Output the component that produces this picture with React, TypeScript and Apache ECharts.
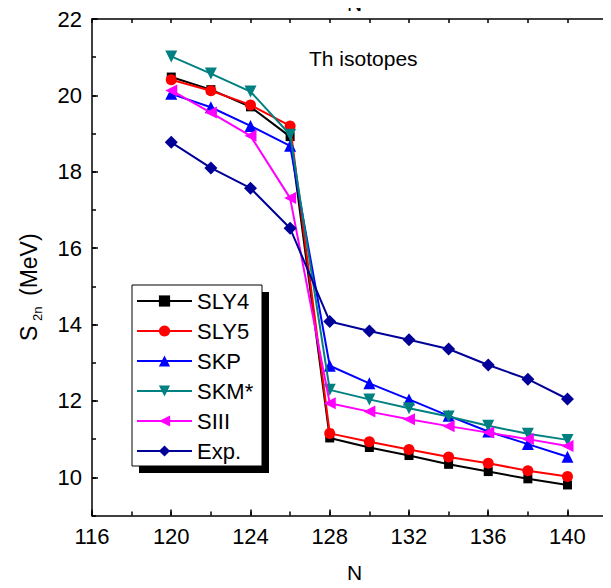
import React, { useEffect, useRef } from "react";
import * as echarts from "echarts";

const neutrons = [120, 122, 124, 126, 128, 130, 132, 134, 136, 138, 140];
const sly4 = [20.48, 20.15, 19.7, 18.92, 11.03, 10.78, 10.57, 10.34, 10.15, 9.96, 9.8];
const sly5 = [20.41, 20.12, 19.75, 19.2, 11.15, 10.93, 10.73, 10.53, 10.37, 10.17, 10.02];
const skp = [20.04, 19.69, 19.2, 18.68, 12.92, 12.46, 12.04, 11.61, 11.2, 10.87, 10.54];
const skmStar = [21.02, 20.57, 20.1, 18.97, 12.29, 12.04, 11.81, 11.59, 11.35, 11.14, 10.98];
const siii = [20.13, 19.55, 18.94, 17.31, 11.94, 11.72, 11.52, 11.34, 11.17, 11.0, 10.82];
const expData = [18.77, 18.1, 17.57, 16.52, 14.08, 13.83, 13.6, 13.36, 12.94, 12.57, 12.05];

const seriesNames = ["SLY4", "SLY5", "SKP", "SKM*", "SIII", "Exp."];
const seriesColors = ["#000000", "#ff0000", "#0000ff", "#008080", "#ff00ff", "#000099"];
const seriesSymbols = ["rect", "circle", "triangle", "path://M0,0 L10,0 L5,10 Z", "path://M0,5 L10,0 L10,10 Z", "diamond"];
const seriesSizes = [9, 11, 12, 12, 12, 13];
const seriesValues = [sly4, sly5, skp, skmStar, siii, expData];

const FONT = "'Liberation Sans', Arial, sans-serif";

export default function App() {
  const ref = useRef<HTMLDivElement>(null);
  useEffect(() => {
    if (!ref.current) return;
    const chart = echarts.init(ref.current, undefined, { renderer: "svg" });
    const axisLine = { show: true, lineStyle: { color: "#000", width: 1.5 } };
    const option: any = {
      animation: false,
      backgroundColor: "#fff",
      textStyle: { fontFamily: FONT },
      grid: { left: 92, right: -6, top: 19, bottom: 72.5, containLabel: false, outerBoundsMode: "none" },
      xAxis: [
        {
          type: "value", position: "bottom", min: 116, max: 142.5, interval: 4,
          name: "N", nameLocation: "middle", nameGap: 46,
          nameTextStyle: { fontSize: 21, color: "#000", fontFamily: FONT },
          axisLine, splitLine: { show: false },
          axisTick: { show: true, inside: true, length: 6, lineStyle: { color: "#000", width: 1.5 } },
          axisLabel: { fontSize: 22, color: "#000", margin: 10, showMaxLabel: false, fontFamily: FONT },
        },
        {
          type: "value", position: "bottom", min: 116, max: 142.5, interval: 2,
          axisLine: { show: false }, splitLine: { show: false }, axisLabel: { show: false },
          axisTick: { show: true, inside: true, length: 4, lineStyle: { color: "#000", width: 1.5 } },
        },
        {
          type: "value", position: "top", min: 116, max: 142.5, interval: 2,
          name: "N", nameLocation: "middle", nameGap: 5,
          nameTextStyle: { fontSize: 21, color: "#000", fontFamily: FONT },
          axisLine, splitLine: { show: false }, axisLabel: { show: false },
          axisTick: { show: true, inside: true, length: 4, lineStyle: { color: "#000", width: 1.5 } },
        },
      ],
      yAxis: [
        {
          type: "value", position: "left", min: 9, max: 22, splitNumber: 6,
          axisLine, splitLine: { show: false },
          axisTick: { show: true, inside: true, length: 6, lineStyle: { color: "#000", width: 1.5 } },
          axisLabel: { fontSize: 22, color: "#000", margin: 10, showMinLabel: false, fontFamily: FONT },
        },
        {
          type: "value", position: "left", min: 9, max: 22, interval: 1,
          axisLine: { show: false }, splitLine: { show: false }, axisLabel: { show: false },
          axisTick: { show: true, inside: true, length: 4, lineStyle: { color: "#000", width: 1.5 } },
        },
      ],
      legend: {
        orient: "vertical", left: 136, top: 290, itemWidth: 55, itemHeight: 14, itemGap: 8,
        padding: 0,
        textStyle: { fontSize: 22, color: "#000", fontFamily: FONT, padding: [0, 0, 0, 0] },
        data: seriesNames,
      },
      graphic: [
        { type: "rect", shape: { x: 139, y: 292, width: 130, height: 181 }, style: { fill: "#000" }, z: 0 },
        { type: "rect", shape: { x: 132, y: 285, width: 130, height: 181 }, style: { fill: "#fff", stroke: "#000", lineWidth: 1 }, z: 0 },
        {
          type: "text", left: 309, top: 48,
          style: { text: "Th isotopes", fontSize: 21, fill: "#000", fontFamily: FONT },
        },
        {
          type: "group", x: 29, y: 341, rotation: Math.PI / 2,
          children: [
            { type: "text", x: 0, y: 0, style: { text: "S", fontSize: 23, fill: "#000", fontFamily: FONT, align: "left", verticalAlign: "middle" } },
            { type: "text", x: 20, y: 8, style: { text: "2n", fontSize: 13, fill: "#000", fontFamily: FONT, align: "left", verticalAlign: "middle" } },
            { type: "text", x: 45, y: 0, style: { text: "(MeV)", fontSize: 23, fill: "#000", fontFamily: FONT, align: "left", verticalAlign: "middle" } },
          ],
        },
      ],
      series: seriesNames.map((name, i) => ({
        name, type: "line", xAxisIndex: 0, yAxisIndex: 0,
        data: neutrons.map((n, j) => [n, seriesValues[i][j]]),
        symbol: seriesSymbols[i], symbolSize: seriesSizes[i], showAllSymbol: true,
        lineStyle: { color: seriesColors[i], width: 2 },
        itemStyle: { color: seriesColors[i] },
        z: 2 + i,
      })),
    };
    chart.setOption(option);
    return () => chart.dispose();
  }, []);
  return <div ref={ref} style={{ width: 611, height: 588, margin: -8 }} />;
}
